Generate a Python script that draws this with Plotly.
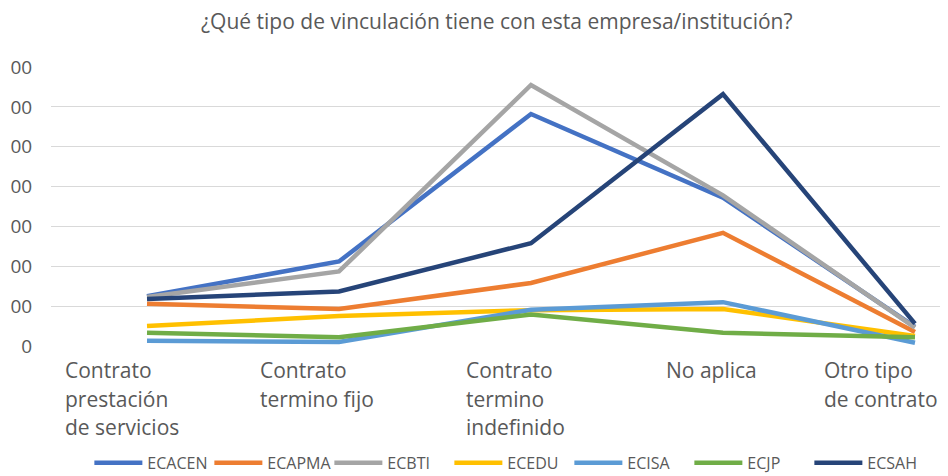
import plotly.graph_objects as go

title_text = "¿Qué tipo de vinculación tiene con esta empresa/institución?"
categories = [
    "Contrato prestación de servicios",
    "Contrato termino fijo",
    "Contrato termino indefinido",
    "No aplica",
    "Otro tipo de contrato",
]
category_labels = [
    "Contrato<br>prestación<br>de servicios",
    "Contrato<br>termino fijo",
    "Contrato<br>termino<br>indefinido",
    "No aplica",
    "Otro tipo<br>de contrato",
]

ECACEN = [125, 212, 582, 372, 48]
ECAPMA = [106, 93, 158, 284, 35]
ECBTI = [123, 187, 655, 378, 46]
ECEDU = [50, 75, 90, 93, 25]
ECISA = [13, 10, 91, 110, 8]
ECJP = [33, 22, 79, 33, 22]
ECSAH = [118, 137, 258, 632, 56]

series_names = ["ECACEN", "ECAPMA", "ECBTI", "ECEDU", "ECISA", "ECJP", "ECSAH"]
series_values = [ECACEN, ECAPMA, ECBTI, ECEDU, ECISA, ECJP, ECSAH]
series_colors = ["#4472C4", "#ED7D31", "#A5A5A5", "#FFC000", "#5B9BD5", "#70AD47", "#264478"]

y_tick_values = [0, 100, 200, 300, 400, 500, 600, 700]
y_tick_text = ["0", "00", "00", "00", "00", "00", "00", "00"]

# horizontal nudges (px) of the wrapped category label blocks
label_nudge = [-25, -22, -15, -11, -34]

FONT = "Open Sans"
GREY = "#595959"

fig = go.Figure()
for name, vals, col in zip(series_names, series_values, series_colors):
    fig.add_trace(go.Scatter(
        x=categories, y=vals, name=name, mode="lines",
        line=dict(color=col, width=4.5),
        cliponaxis=False,
    ))

for cat, lab, nudge in zip(categories, category_labels, label_nudge):
    txt = "<br>".join('<span style="font-size:21px">%s</span>' % s for s in lab.split("<br>"))
    fig.add_annotation(
        x=cat, xref="x", y=0, yref="paper", text=txt,
        showarrow=False, xanchor="center", yanchor="top", align="left",
        xshift=nudge, yshift=-8,
        font=dict(family=FONT, size=22, color=GREY),
    )

fig.update_layout(
    width=940, height=468,
    margin=dict(l=43, r=0, t=59, b=130),
    paper_bgcolor="white", plot_bgcolor="white",
    title=dict(text=title_text, x=0.52, xanchor="center", y=0.970, yanchor="middle",
               font=dict(family=FONT, size=21, color=GREY)),
    showlegend=True,
    legend=dict(orientation="h", x=0.511, xanchor="center", yref="container", y=0.028, yanchor="middle",
                font=dict(family=FONT, size=16, color=GREY), traceorder="normal",
                itemwidth=48, entrywidth=57, entrywidthmode="pixels"),
    xaxis=dict(type="category", range=[-0.5, 4.172], showticklabels=False, showgrid=False,
               zeroline=False, showline=False, fixedrange=True),
    yaxis=dict(range=[0, 700], tickvals=y_tick_values, ticktext=y_tick_text,
               showgrid=True, gridcolor="#D9D9D9", gridwidth=1, zeroline=False, showline=False,
               ticks="outside", ticklen=14, tickcolor="rgba(0,0,0,0)",
               tickfont=dict(family=FONT, size=19, color=GREY)),
)

fig.write_html("out.html")
